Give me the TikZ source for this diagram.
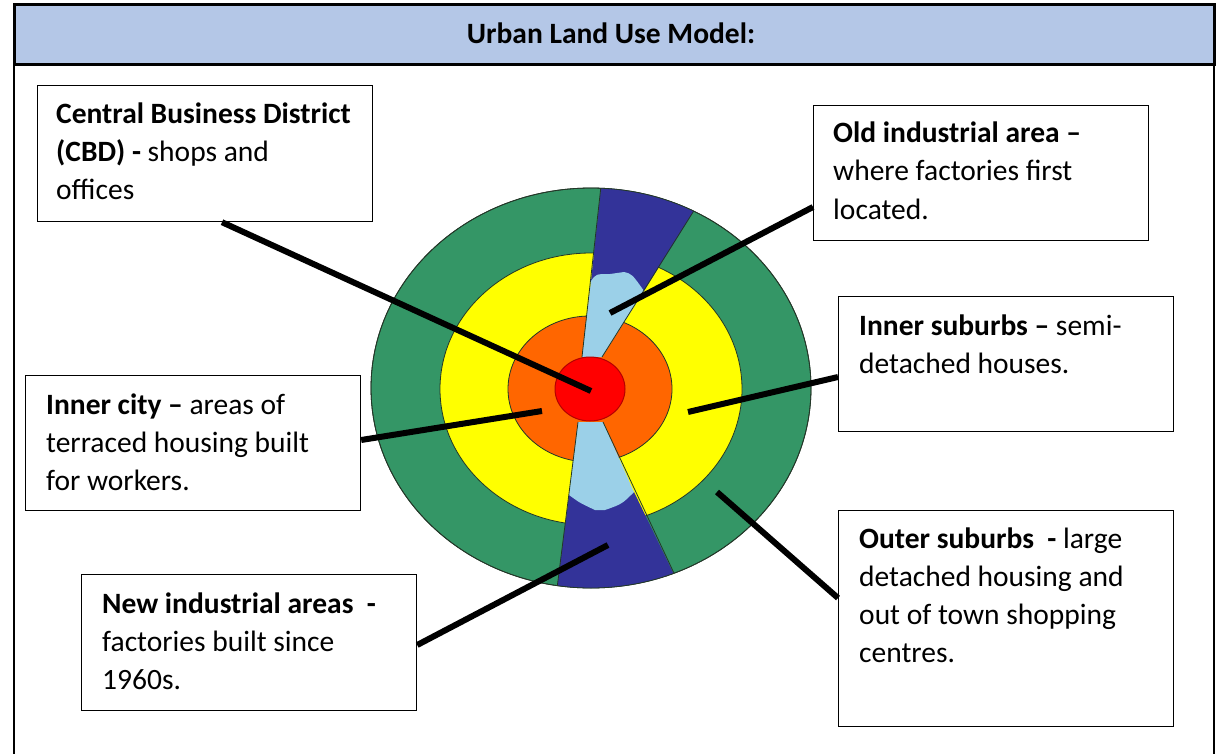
\documentclass[tikz,border=0pt]{standalone}
\usepackage{fontspec}
\setmainfont{Carlito}
\usetikzlibrary{calc}

\definecolor{headblue}{RGB}{180,199,231}
\definecolor{ringgreen}{RGB}{52,150,102}
\definecolor{ringyellow}{RGB}{255,255,0}
\definecolor{ringorange}{RGB}{255,102,0}
\definecolor{cbdred}{RGB}{255,0,0}
\definecolor{cbdedge}{RGB}{180,0,0}
\definecolor{indblue}{RGB}{51,51,153}
\definecolor{paleblue}{RGB}{155,208,232}
\definecolor{zoneedge}{RGB}{35,55,40}

\begin{document}
\begin{tikzpicture}[x=1pt,y=-1pt,
  labelbox/.style={draw=black, line width=1.2pt, fill=white, rectangle,
    anchor=north west, inner sep=0pt, minimum width=335pt},
  labeltext/.style={anchor=base west, inner sep=0pt,
    font=\fontsize{29.5}{38}\selectfont},
  pointer/.style={line width=6pt, draw=black},
  zoneline/.style={draw=zoneedge, line width=0.8pt}
]
\useasboundingbox (0,0) rectangle (1222,754);
\fill[white] (0,0) rectangle (1222,754);

% frame and title band
\draw[line width=1.5pt] (14,65) -- (14,760);
\draw[line width=1.5pt] (1214,65) -- (1214,760);
\draw[line width=3pt, fill=headblue] (14,5) rectangle (1214,65);
\node[anchor=base, inner sep=0pt, font=\fontsize{29.5}{34}\selectfont\bfseries]
  (title) at (611,44) {Urban Land Use Model:};

% concentric zones
\fill[ringgreen] (591,388) ellipse [x radius=220, y radius=200];
\draw[zoneline] (591,388) ellipse [x radius=220, y radius=200];
\path[fill=ringyellow, zoneline] (591,389) ellipse [x radius=151, y radius=136];
\path[fill=ringorange, zoneline] (590,389) ellipse [x radius=82, y radius=73];

% industrial sectors
\begin{scope}
  \clip (591,388) ellipse [x radius=220, y radius=200];
  \fill[indblue] (605,150) -- (732,150) -- (644,291) -- (591,281) -- cycle;
  \fill[indblue] (553,620) -- (696,620) -- (634,492) -- (569,495) -- cycle;
  \fill[paleblue] (591,281) .. controls (596,274) .. (610,274) -- (624,272)
    .. controls (632,274) .. (644,291) -- (602,357) -- (582,357) -- cycle;
  \fill[paleblue] (578,422) -- (603,422) -- (634,492)
    .. controls (622,504) .. (605,510) -- (595,510)
    .. controls (580,503) .. (569,495) -- cycle;
  \draw[zoneline] (605,150) -- (582,357);
  \draw[zoneline] (732,150) -- (602,357);
  \draw[zoneline] (578,422) -- (553,620);
  \draw[zoneline] (603,422) -- (696,620);
\end{scope}
\draw[zoneline] (591,388) ellipse [x radius=220, y radius=200];

% central business district
\path[fill=cbdred, draw=cbdedge, line width=1pt] (590,389) ellipse [x radius=35, y radius=32];

% label boxes
\node[labelbox, minimum height=136pt] (cbd) at (37,85) {};
\node[labelbox, minimum height=135pt] (oldind) at (813,105) {};
\node[labelbox, minimum height=135pt] (insub) at (838,296) {};
\node[labelbox, minimum height=135pt] (incity) at (25,375) {};
\node[labelbox, minimum height=216pt] (outsub) at (838,510) {};
\node[labelbox, minimum height=136pt] (newind) at (81,574) {};

\node[labeltext] (cbdtxt) at ($(cbd.north west)+(19,39)$)
  {\parbox[t]{320pt}{\textbf{Central Business District}\\
   \textbf{(CBD) -} shops and\\ offices}};
\node[labeltext] (oldtxt) at ($(oldind.north west)+(20,38)$)
  {\parbox[t]{320pt}{\textbf{Old industrial area –}\\
   where factories first\\ located.}};
\node[labeltext] (insubtxt) at ($(insub.north west)+(21,39)$)
  {\parbox[t]{320pt}{\textbf{Inner suburbs –} semi-\\ detached houses.}};
\node[labeltext] (incitytxt) at ($(incity.north west)+(21,39)$)
  {\parbox[t]{320pt}{\textbf{Inner city –} areas of\\
   terraced housing built\\ for workers.}};
\node[labeltext] (outsubtxt) at ($(outsub.north west)+(21,38)$)
  {\parbox[t]{320pt}{\textbf{Outer suburbs\ \ -} large\\
   detached housing and\\ out of town shopping\\ centres.}};
\node[labeltext] (newindtxt) at ($(newind.north west)+(21,39)$)
  {\parbox[t]{320pt}{\textbf{New industrial areas\ \ -}\\
   factories built since\\ 1960s.}};

% pointer ends inside the zones
\coordinate (cbdpt) at (591,391);
\coordinate (oldpt) at (610,313);
\coordinate (insubpt) at (688,412);
\coordinate (incitypt) at (542,411);
\coordinate (outsubpt) at (717,492);
\coordinate (newindpt) at (608,545);

\draw[pointer] ($(cbd.south west)+(185,0)$) -- (cbdpt);
\draw[pointer] ($(oldind.north west)+(0,102)$) -- (oldpt);
\draw[pointer] ($(insub.north west)+(0,81)$) -- (insubpt);
\draw[pointer] ($(incity.north east)+(0,65)$) -- (incitypt);
\draw[pointer] ($(outsub.north west)+(0,88)$) -- (outsubpt);
\draw[pointer] ($(newind.north east)+(0,71)$) -- (newindpt);
\end{tikzpicture}
\end{document}
